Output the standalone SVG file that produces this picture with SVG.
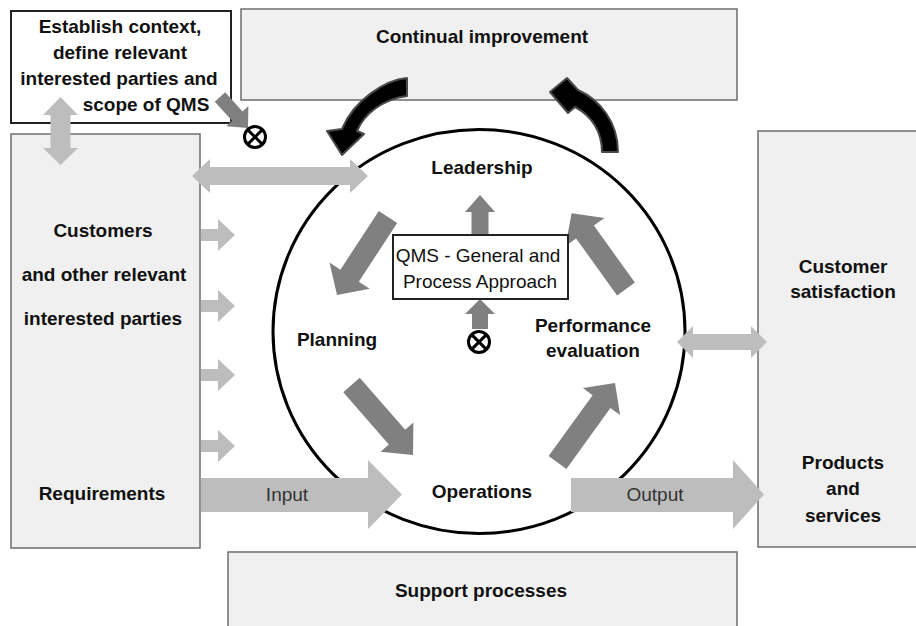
<svg xmlns="http://www.w3.org/2000/svg" width="916" height="626" viewBox="0 0 916 626">
<defs>
<style>
.box{fill:#f0f0f0;stroke:#6e6e6e;stroke-width:1.5}
.wbox{fill:#ffffff;stroke:#222;stroke-width:2}
.lbl{font-family:"Liberation Sans",Arial,sans-serif;font-weight:bold;font-size:19px;fill:#111;text-anchor:middle}
.reg{font-family:"Liberation Sans",Arial,sans-serif;font-size:19px;fill:#111;text-anchor:middle}
.io{font-family:"Liberation Sans",Arial,sans-serif;font-size:19px;fill:#333;text-anchor:middle}
.light{fill:#bdbdbd}
.dark{fill:#808080}
.curve{fill:#000;stroke:#4a4a4a;stroke-width:2;stroke-linejoin:round}
.otimes{fill:none;stroke:#000;stroke-width:3}
</style>
</defs>
<rect width="916" height="626" fill="#ffffff"/>

<ellipse id="cycle" cx="479" cy="331.5" rx="206" ry="202" fill="none" stroke="#000" stroke-width="3"/>

<g id="establish">
<rect class="wbox" x="11" y="11" width="220" height="112"/>
<text class="lbl" x="120" y="33">Establish context,</text>
<text class="lbl" x="120" y="59">define relevant</text>
<text class="lbl" x="119" y="85">interested parties and</text>
<text class="lbl" x="146" y="111">scope of QMS</text>
</g>

<g id="continual">
<rect class="box" x="241" y="9" width="496" height="91"/>
<text class="lbl" x="482" y="43">Continual improvement</text>
</g>

<g id="customers">
<rect class="box" x="11" y="134" width="189" height="414"/>
<text class="lbl" x="103" y="237">Customers</text>
<text class="lbl" x="104" y="281">and other relevant</text>
<text class="lbl" x="103" y="325">interested parties</text>
<text class="lbl" x="102" y="500">Requirements</text>
</g>

<g id="right-box">
<rect class="box" x="758" y="131" width="175" height="416"/>
<text class="lbl" x="843" y="273">Customer</text>
<text class="lbl" x="843" y="298">satisfaction</text>
<text class="lbl" x="843" y="469">Products</text>
<text class="lbl" x="843" y="495">and</text>
<text class="lbl" x="843" y="522">services</text>
</g>

<g id="support">
<rect class="box" x="228" y="552" width="509" height="90"/>
<text class="lbl" x="481" y="597">Support processes</text>
</g>

<g id="connectors">
<polygon class="light" points="60.5,97 78,115 70.5,115 70.5,148 78,148 60.5,165 43,148 50.5,148 50.5,115 43,115"/>
<polygon class="light" points="192,176 210,159 210,167 350,167 350,159 368,176 350,193 350,185 210,185 210,193"/>
<polygon class="light" points="201,229 218,229 218,219 235,235 218,251 218,241 201,241"/>
<polygon class="light" points="201,300 218,300 218,290 235,306 218,322 218,312 201,312"/>
<polygon class="light" points="201,369 218,369 218,359 235,375 218,391 218,381 201,381"/>
<polygon class="light" points="201,440 218,440 218,430 235,446 218,462 218,452 201,452"/>
<polygon class="light" points="201,478 368,478 368,460 402,494.5 368,529 368,512 201,512"/>
<polygon class="light" points="571,478 733,478 733,460 764,494.5 733,529 733,512 571,512"/>
<polygon class="light" points="677,342 693,326 693,334 751,334 751,326 767,342 751,358 751,350 693,350 693,358"/>

<polygon class="dark" points="214.8,101.7 225.2,92.3 242.5,111.4 248.4,106 248,128 226.2,126.2 232.1,120.8"/>
<polygon class="dark" points="378.8,211 397.2,223 358.8,281.7 369.7,288.8 337,295 329.5,262.6 340.4,269.7"/>
<polygon class="dark" points="634.9,282.6 593.9,225.6 604.5,218 571.6,213.3 565.5,246 576.1,238.4 617.1,295.4"/>
<polygon class="dark" points="343.3,392.3 359.7,377.7 405.2,429.8 413.4,422.4 413,455 380.6,451.8 388.8,444.4"/>
<polygon class="dark" points="548.6,456.1 592.6,395.2 582.9,388.1 615,383 620.1,415.1 610.4,408 566.4,468.9"/>
<polygon class="dark" points="471.5,235 471.5,212 465,212 480,195 495,212 488.5,212 488.5,235"/>
<polygon class="dark" points="472,329 472,314 465,314 480,299 495,314 488,314 488,329"/>

<path class="curve" d="M407,78 C385,80 354,100 342,129 L327,131 L342,155 L364,134 L357,131 C364,114 383,99 407,96 Z"/>
<path class="curve" d="M602,152 C602,132 592,116 575,107 L568,113 L550,92 L567,78 L578,90 C600,100 618,122 618,152 Z"/>

<g id="otimes-top">
<circle class="otimes" cx="255" cy="137" r="10.5"/>
<path class="otimes" d="M247.6,129.6 L262.4,144.4 M262.4,129.6 L247.6,144.4"/>
</g>
<g id="otimes-center">
<circle class="otimes" cx="479" cy="342" r="10.5"/>
<path class="otimes" d="M471.6,334.6 L486.4,349.4 M486.4,334.6 L471.6,349.4"/>
</g>
</g>

<g id="qms">
<rect class="wbox" x="393" y="235" width="175" height="64"/>
<text class="reg" x="478" y="262">QMS - General and</text>
<text class="reg" x="480" y="288">Process Approach</text>
</g>

<g id="leadership"><text class="lbl" x="482" y="174">Leadership</text></g>
<g id="planning"><text class="lbl" x="337" y="346">Planning</text></g>
<g id="performance">
<text class="lbl" x="593" y="332">Performance</text>
<text class="lbl" x="593" y="357">evaluation</text>
</g>
<g id="operations"><text class="lbl" x="482" y="498">Operations</text></g>
<g id="io-labels">
<text class="io" x="287" y="501">Input</text>
<text class="io" x="655" y="501">Output</text>
</g>
</svg>
